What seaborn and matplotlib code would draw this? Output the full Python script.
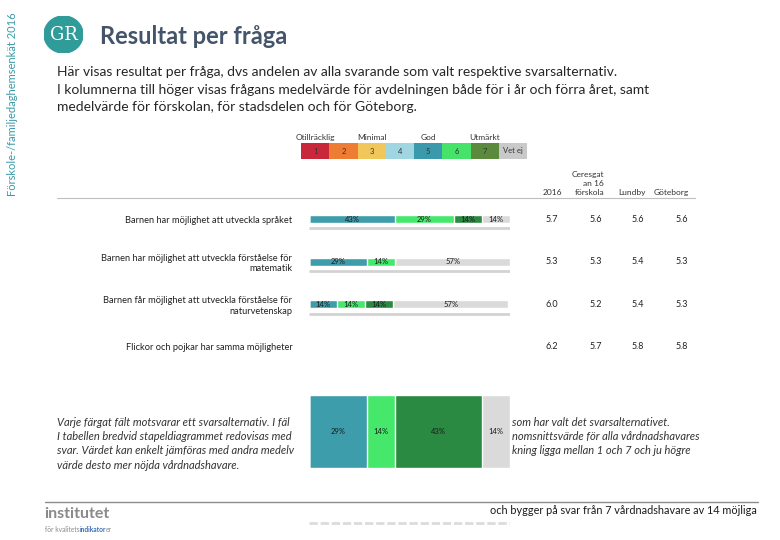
import matplotlib.pyplot as plt
import numpy as np
import pandas as pd
import seaborn as sns
from matplotlib.colors import ListedColormap
from matplotlib.lines import Line2D
from matplotlib.patches import Ellipse
from matplotlib import transforms

# Data
questions = [
    "Barnen har möjlighet att utveckla språket",
    "Barnen har möjlighet att utveckla förståelse för\nmatematik",
    "Barnen får möjlighet att utveckla förståelse för\nnaturvetenskap",
    "Flickor och pojkar har samma möjligheter",
]
answers = ["1", "2", "3", "4", "5", "6", "7", "Vet ej"]
scale_labels = ["Otillräcklig", "Minimal", "God", "Utmärkt"]

# share of answers (percent) per question, in answer order
pct_q1 = [0, 0, 0, 0, 43, 29, 14, 14]
pct_q2 = [0, 0, 0, 0, 29, 14, 0, 57]
pct_q3 = [0, 0, 0, 0, 14, 14, 14, 57]
pct_q4 = [0, 0, 0, 0, 29, 14, 43, 14]
prev_total = [100, 100, 100, 100]   # förra året, thin bar

col_headers = ["2016", "Ceresgat\nan 16\nförskola", "Lundby", "Göteborg"]
mean_2016 = [5.7, 5.3, 6.0, 6.2]
mean_forskola = [5.6, 5.3, 5.2, 5.7]
mean_lundby = [5.6, 5.4, 5.4, 5.8]
mean_goteborg = [5.6, 5.3, 5.3, 5.8]

bar_colors = ["#c9283a", "#ee7d33", "#f1c75b", "#9fd6e2",
              "#3d9dab", "#46e86c", "#2a8a42", "#dadada"]
legend_colors = ["#c9283a", "#ee7d33", "#f1c75b", "#9fd6e2",
                 "#3a9aab", "#46e36a", "#5b8a3e", "#c9c9c9"]

W, H = 780, 540


def fx(x):
    return x / W


def fy(y):
    return 1 - y / H


sns.set_style("white")
plt.rcParams["font.family"] = ["Lato", "DejaVu Sans"]

fig = plt.figure(figsize=(7.8, 5.4), dpi=100)

# side text, logo and title
fig.text(fx(13), fy(196), "Förskole-/familjedaghemsenkät 2016", rotation=90,
         ha="center", va="bottom", fontsize=8, color="#3a9aa8")
lax = fig.add_axes([fx(44), fy(53), 39 / W, 37 / H])
lax.add_patch(Ellipse((0.5, 0.5), 1, 1, color="#2f9c99"))
lax.text(0.5, 0.5, "GR", ha="center", va="center", color="white",
         fontsize=13, family="DejaVu Serif")
lax.set_xlim(0, 1)
lax.set_ylim(0, 1)
lax.axis("off")

fig.text(fx(100), fy(37), "Resultat per fråga", fontsize=17, weight="bold",
         color="#44546a", va="center")

intro = ["Här visas resultat per fråga, dvs andelen av alla svarande som valt respektive svarsalternativ.",
         "I kolumnerna till höger visas frågans medelvärde för avdelningen både för i år och förra året, samt",
         "medelvärde för förskolan, för stadsdelen och för Göteborg."]
for i, line in enumerate(intro):
    fig.text(fx(57), fy(72 + i * 17.5), line, fontsize=10, color="#262626", va="center")

# colour scale legend
gax = fig.add_axes([fx(301), fy(159), 226 / W, 16 / H])
sns.heatmap(np.arange(len(answers)).reshape(1, -1), cmap=ListedColormap(legend_colors),
            annot=np.array([answers]), fmt="", cbar=False, ax=gax,
            annot_kws=dict(fontsize=5.5, color="#333333"))
gax.set_xticks([])
gax.set_yticks([])
for i, lab in zip([0, 2, 4, 6], scale_labels):
    gax.text(i + 0.5, -0.15, lab, ha="center", va="bottom", fontsize=6, color="#333333")

# main stacked bars
ax = fig.add_axes([fx(309), fy(368.3), 201 / W, 170.6 / H])
shown = [pct_q1, pct_q2, pct_q3]
cum = np.cumsum(np.array(shown), axis=1)
for k in range(len(answers) - 1, -1, -1):
    sns.barplot(x=cum[:, k], y=questions[:3], orient="h", color=bar_colors[k],
                width=0.19, saturation=1, errorbar=None, ax=ax)
for i, row in enumerate(shown):
    left = 0
    for p in row:
        if p > 0:
            ax.text(left + p / 2, i, f"{p}%", ha="center", va="center",
                    fontsize=5.5, color="#1a1a1a")
        left += p
    ax.hlines(i + 0.22, 0, prev_total[i], color="#d3d3d3", lw=2)
ax.set_xlim(0, 100)
ax.set_ylim(3.5, -0.5)
ax.set_yticks(range(len(questions)), questions)
ax.set_xticks([])
ax.set_xlabel("")
ax.set_ylabel("")
ax.tick_params(axis="y", length=0, pad=12, labelsize=6.7, labelcolor="#222222")
sns.despine(ax=ax, left=True, bottom=True)
ax.patch.set_visible(False)

# table of mean values
fig.add_artist(Line2D([fx(57), fx(695)], [fy(198), fy(198)], color="#bfbfbf", lw=0.8))
col_x = [552, 596, 638, 682]
fig.text(fx(552), fy(196), col_headers[0], ha="center", va="bottom", fontsize=6, color="#333333")
fig.text(fx(604), fy(196), col_headers[1], ha="right", va="bottom", fontsize=6,
         color="#333333", linespacing=1.3)
fig.text(fx(632), fy(196), col_headers[2], ha="center", va="bottom", fontsize=6, color="#333333")
fig.text(fx(671), fy(196), col_headers[3], ha="center", va="bottom", fontsize=6, color="#333333")
tr = transforms.blended_transform_factory(fig.transFigure, ax.transData)
for j, vals in enumerate([mean_2016, mean_forskola, mean_lundby, mean_goteborg]):
    for i, v in enumerate(vals):
        ax.text(fx(col_x[j]), i, f"{v:.1f}", transform=tr, ha="center", va="center",
                fontsize=6.5, color="#222222", clip_on=False)

# explanation text (the middle part is hidden behind the last bar)
left_lines = ["Varje färgat fält motsvarar ett svarsalternativ. I fäl",
              "I tabellen bredvid stapeldiagrammet redovisas med",
              "svar. Värdet kan enkelt jämföras med andra medelv",
              "värde desto mer nöjda vårdnadshavare."]
right_lines = ["som har valt det svarsalternativet.",
               "nomsnittsvärde för alla vårdnadshavares",
               "kning ligga mellan 1 och 7 och ju högre",
               ""]
for i, (l, r) in enumerate(zip(left_lines, right_lines)):
    y = fy(422 + i * 14.5)
    fig.text(fx(57), y, l, style="italic", fontsize=8, color="#333333", va="center")
    fig.text(fx(512), y, r, style="italic", fontsize=8, color="#333333", va="center")

# the last question's bar, drawn lower down
bx = fig.add_axes([fx(309), fy(526), 201 / W, 131 / H])
cum4 = np.cumsum(pct_q4)
for k in range(len(answers) - 1, -1, -1):
    sns.barplot(x=[cum4[k]], y=[questions[3]], orient="h", color=bar_colors[k],
                width=1.0, saturation=1, errorbar=None, ax=bx)
left = 0
for p in pct_q4:
    if p > 0:
        bx.text(left + p / 2, 0, f"{p}%", ha="center", va="center", fontsize=5.5, color="#1a1a1a")
    left += p
bx.hlines(1.253, 0, prev_total[3], color="#dcdcdc", lw=2, linestyles=(0, (3, 1)))
bx.set_xlim(0, 100)
bx.set_ylim(1.295, -0.5)
bx.axis("off")
bx.patch.set_visible(False)
bx.set_zorder(10)

# footer
fig.add_artist(Line2D([fx(45), fx(758)], [fy(502), fy(502)], color="#8c8c8c", lw=1))
fig.text(fx(757), fy(510), "och bygger på svar från 7 vårdnadshavare av 14 möjliga",
         ha="right", va="center", fontsize=7.8, color="#1a1a1a")
fig.text(fx(44), fy(514), "institutet", fontsize=11.5, weight="bold", color="#8a8a8a", va="center")

# small logo line, pieces placed one after another
renderer = fig.canvas.get_renderer()
x = fx(45)
for piece, col, wt in [("för kvalitets", "#8a8a8a", "normal"),
                       ("indikator", "#3a6fb5", "bold"),
                       ("er", "#8a8a8a", "normal")]:
    t = fig.text(x, fy(529), piece, fontsize=4.8, color=col, weight=wt, va="center")
    bb = t.get_window_extent(renderer)
    x = fig.transFigure.inverted().transform((bb.x1, bb.y0))[0]

fig.savefig("out.png", dpi=100)
